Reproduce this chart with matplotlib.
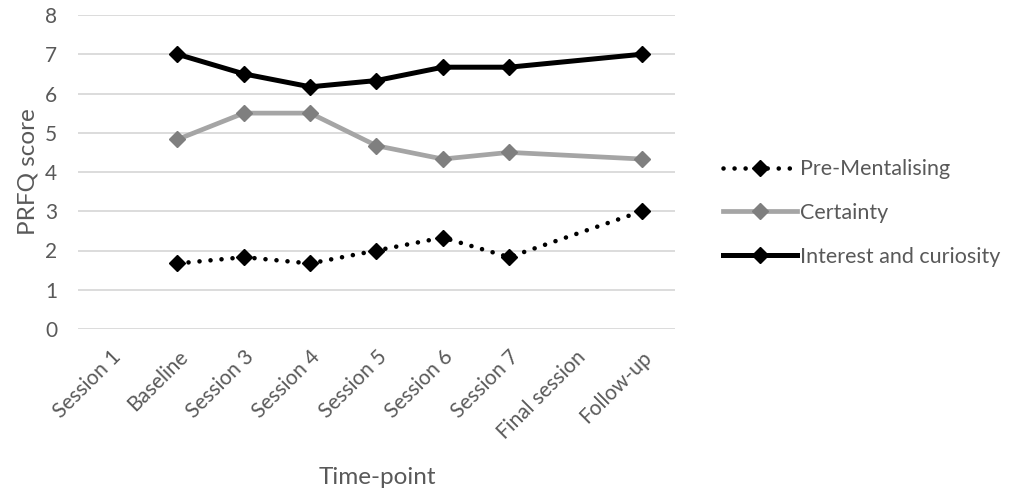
import matplotlib.pyplot as plt
import numpy as np

timepoints = ["Session 1", "Baseline", "Session 3", "Session 4", "Session 5",
              "Session 6", "Session 7", "Final session", "Follow-up"]
pre_mentalising = [np.nan, 1.67, 1.83, 1.67, 2.0, 2.33, 1.83, np.nan, 3.0]
certainty = [np.nan, 4.83, 5.5, 5.5, 4.67, 4.33, 4.5, np.nan, 4.33]
interest = [np.nan, 7.0, 6.5, 6.17, 6.33, 6.67, 6.67, np.nan, 7.0]

text_color = "#595959"
plt.rcParams["font.family"] = ["Lato", "DejaVu Sans"]

fig = plt.figure(figsize=(10.1, 4.92), dpi=100)
ax = fig.add_axes([78 / 1010, 1 - 329 / 492, 597 / 1010, 314 / 492])

x = np.arange(len(timepoints))


def plot_series(values, **kwargs):
    # skip the time-points with no score so the line bridges the gap
    values = np.asarray(values, dtype=float)
    keep = ~np.isnan(values)
    return ax.plot(x[keep], values[keep], marker="D", **kwargs)


plot_series(pre_mentalising, color="black", lw=3.3, linestyle=(0, (0.01, 2.4)),
            dash_capstyle="round", markersize=8.5, markerfacecolor="black",
            markeredgecolor="black", label="Pre-Mentalising", zorder=3)
plot_series(certainty, color="#a5a5a5", lw=3.4, markersize=8.5,
            markerfacecolor="#7f7f7f", markeredgecolor="#7f7f7f",
            label="Certainty", zorder=3)
plot_series(interest, color="black", lw=3.6, markersize=8.5,
            markerfacecolor="black", markeredgecolor="black",
            label="Interest and curiosity", zorder=3)

ax.set_xlim(-0.5, len(timepoints) - 0.5)
ax.set_ylim(0, 8)
ax.set_yticks(range(0, 9))
ax.set_xticks(x)
ax.set_xticklabels(timepoints, rotation=45, ha="right", rotation_mode="anchor")
ax.grid(axis="y", color="#d9d9d9", lw=1.3)
ax.set_axisbelow(True)
for side in ax.spines.values():
    side.set_visible(False)
ax.tick_params(length=0, labelsize=15, colors=text_color)
ax.tick_params(axis="y", pad=15)
ax.tick_params(axis="x", pad=13)

ax.set_ylabel("PRFQ score", fontsize=17.5, color=text_color, labelpad=5)
fig.text(377 / 1010, 1 - 478 / 492, "Time-point", fontsize=17.5,
         color=text_color, ha="center", va="center")

ax.legend(loc="center left", bbox_to_anchor=(626 / 597, 0.37), frameon=False,
          fontsize=15.5, labelcolor=text_color, handlelength=3.4,
          handletextpad=0.15, labelspacing=1.1)

fig.savefig("out.png", dpi=100)
